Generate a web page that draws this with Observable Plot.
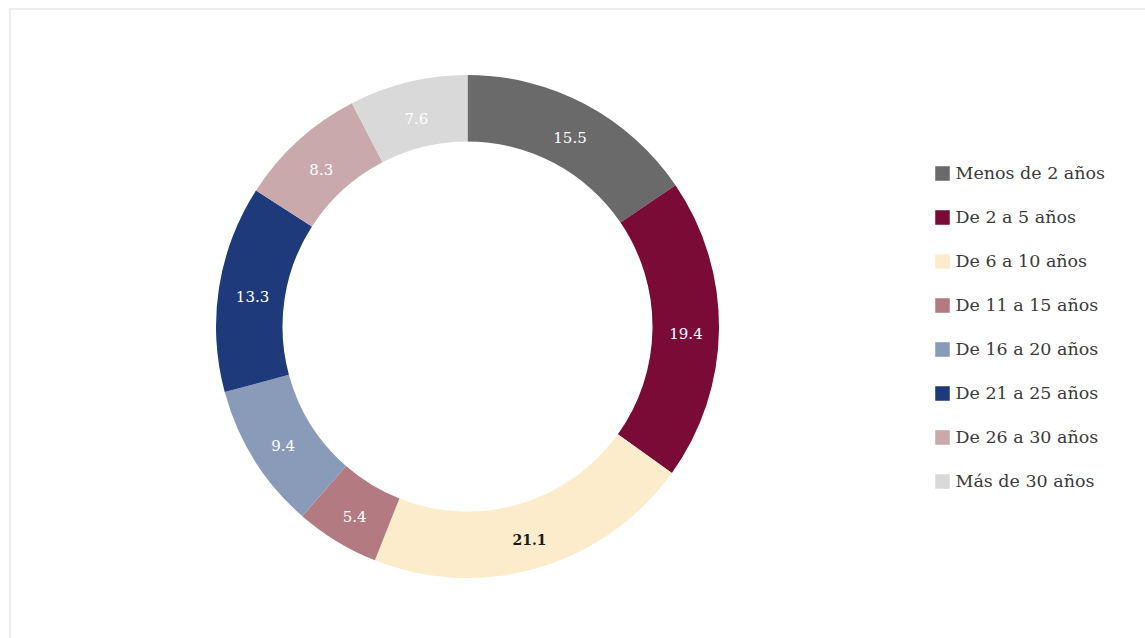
<!DOCTYPE html>
<html>
<head>
<meta charset="utf-8">
<script src="https://cdn.jsdelivr.net/npm/d3@7"></script>
<script src="https://cdn.jsdelivr.net/npm/@observablehq/plot@0.6"></script>
<style>
  html, body { margin: 0; padding: 0; background: #fff; }
  #wrap { position: relative; width: 1145px; height: 638px; overflow: hidden; background: #fff; }
  #frame { position: absolute; left: 9px; top: 8px; width: 1200px; height: 700px;
           border-top: 2px solid #eeeeee; border-left: 2px solid #eeeeee; }
  #donut { position: absolute; left: 0; top: 0; }
  #legend { position: absolute; left: 925px; top: 148px; }
</style>
</head>
<body>
<div id="wrap">
  <div id="frame"></div>
  <div id="donut"></div>
  <div id="legend"></div>
</div>
<script>
// ---- data ----
const labels = ["Menos de 2 años", "De 2 a 5 años", "De 6 a 10 años", "De 11 a 15 años",
                "De 16 a 20 años", "De 21 a 25 años", "De 26 a 30 años", "Más de 30 años"];
const values = [15.5, 19.4, 21.1, 5.4, 9.4, 13.3, 8.3, 7.6];
const colors = ["#6a6a6a", "#7a0b37", "#fdeccb", "#b47a82", "#8a9bba", "#1e3a7a", "#c9a9ab", "#d9d9d9"];

const data = labels.map((label, i) => ({label, value: values[i]}));

// ---- geometry ----
const CX = 467.5, CY = 326.5, RO = 251.5, RI = 185, RL = 218;
const font = "DejaVu Serif";
const colorScale = {domain: labels, range: colors};

function arcRender(index, scales, v) {
  const arc = d3.arc().innerRadius(RI).outerRadius(RO);
  const g = d3.create("svg:g").attr("transform", `translate(${CX},${CY})`);
  g.selectAll("path").data(Array.from(index)).join("path")
    .attr("d", i => arc({startAngle: v.x1[i], endAngle: v.x2[i]}))
    .attr("fill", i => v.fill[i]);
  return g.node();
}

function polarText(keep) {
  return (index, scales, v, dims, ctx, next) => {
    const n = v.x.length;
    const X = new Float64Array(n), Y = new Float64Array(n);
    for (let i = 0; i < n; ++i) {
      X[i] = CX + RL * Math.sin(v.x[i]);
      Y[i] = CY - RL * Math.cos(v.x[i]);
    }
    const idx = Array.from(index).filter(i => keep(labels[i]));
    return next(idx, scales, {...v, x: X, y: Y}, dims, ctx);
  };
}

const special = "De 6 a 10 años";

const donut = Plot.plot({
  width: 1145,
  height: 638,
  margin: 0,
  style: {fontFamily: font, background: "transparent"},
  x: {domain: [0, 100], range: [0, 2 * Math.PI], axis: null},
  color: colorScale,
  marks: [
    Plot.barX(data, Plot.stackX({x: "value", fill: "label", render: arcRender})),
    Plot.text(data, Plot.stackX({
      x: "value", text: d => d.value.toFixed(1), fill: "white", fontSize: 15, dy: 4,
      render: polarText(l => l !== special)
    })),
    Plot.text(data, Plot.stackX({
      x: "value", text: d => d.value.toFixed(1), fill: "#1a1a1a", fontSize: 14, fontWeight: "bold", dy: 4,
      render: polarText(l => l === special)
    }))
  ]
});
document.getElementById("donut").appendChild(donut);

const rowH = 44.7;
const legend = Plot.plot({
  width: 220,
  height: rowH * labels.length,
  margin: 0,
  style: {fontFamily: font, background: "transparent", overflow: "visible"},
  y: {domain: labels, type: "point", padding: 0.5, axis: null},
  color: colorScale,
  marks: [
    Plot.dot(labels, {y: d => d, fill: d => d, symbol: "square", r: 8.2, frameAnchor: "left", dx: 17}),
    Plot.text(labels, {y: d => d, text: d => d, frameAnchor: "left", dx: 30, textAnchor: "start",
                       fontSize: 17.5, fill: "#3a3a3a"})
  ]
});
document.getElementById("legend").appendChild(legend);
</script>
</body>
</html>
